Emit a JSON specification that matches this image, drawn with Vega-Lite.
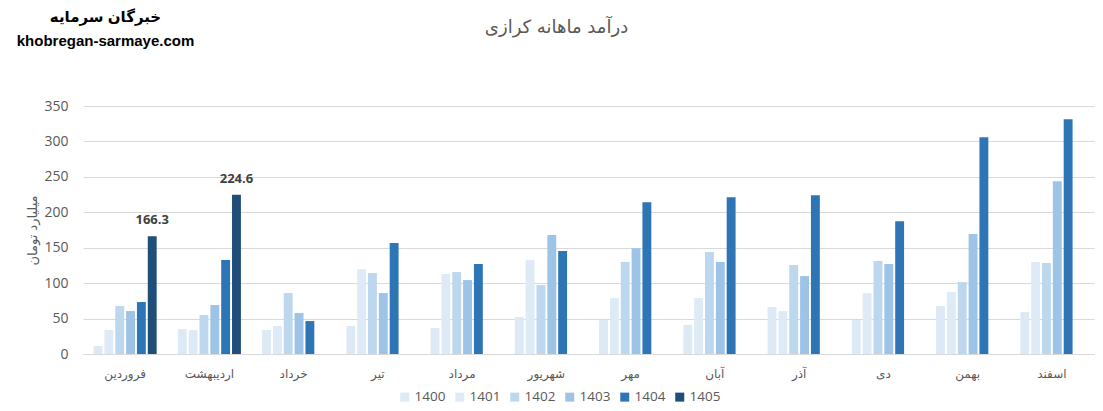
{
  "$schema": "https://vega.github.io/schema/vega-lite/v6.json",
  "autosize": {"type": "none"},
  "width": 1011,
  "height": 248,
  "padding": {"left": 83, "top": 106, "right": 9, "bottom": 57},
  "background": "white",
  "title": {
    "text": "درآمد ماهانه کرازی",
    "fontSize": 18,
    "fontWeight": "normal",
    "color": "#595959",
    "font": "DejaVu Sans",
    "anchor": "middle",
    "dx": -32,
    "offset": 0,
    "dy": 46,
    "baseline": "bottom"
  },
  "config": {"view": {"stroke": null}},
  "data": {
    "values": [
      {"month": "فروردین", "year": "1400", "value": 11.3},
      {"month": "فروردین", "year": "1401", "value": 33.8},
      {"month": "فروردین", "year": "1402", "value": 67.7},
      {"month": "فروردین", "year": "1403", "value": 60.6},
      {"month": "فروردین", "year": "1404", "value": 73.3},
      {"month": "فروردین", "year": "1405", "value": 166.3},
      {"month": "اردیبهشت", "year": "1400", "value": 35.2},
      {"month": "اردیبهشت", "year": "1401", "value": 33.8},
      {"month": "اردیبهشت", "year": "1402", "value": 55.0},
      {"month": "اردیبهشت", "year": "1403", "value": 69.1},
      {"month": "اردیبهشت", "year": "1404", "value": 132.5},
      {"month": "اردیبهشت", "year": "1405", "value": 224.6},
      {"month": "خرداد", "year": "1400", "value": 33.8},
      {"month": "خرداد", "year": "1401", "value": 39.5},
      {"month": "خرداد", "year": "1402", "value": 86.0},
      {"month": "خرداد", "year": "1403", "value": 57.8},
      {"month": "خرداد", "year": "1404", "value": 46.5},
      {"month": "تیر", "year": "1400", "value": 39.5},
      {"month": "تیر", "year": "1401", "value": 119.8},
      {"month": "تیر", "year": "1402", "value": 114.2},
      {"month": "تیر", "year": "1403", "value": 86.0},
      {"month": "تیر", "year": "1404", "value": 156.5},
      {"month": "مرداد", "year": "1400", "value": 36.7},
      {"month": "مرداد", "year": "1401", "value": 112.8},
      {"month": "مرداد", "year": "1402", "value": 115.6},
      {"month": "مرداد", "year": "1403", "value": 104.3},
      {"month": "مرداد", "year": "1404", "value": 126.9},
      {"month": "شهریور", "year": "1400", "value": 52.2},
      {"month": "شهریور", "year": "1401", "value": 132.5},
      {"month": "شهریور", "year": "1402", "value": 97.3},
      {"month": "شهریور", "year": "1403", "value": 167.8},
      {"month": "شهریور", "year": "1404", "value": 145.2},
      {"month": "مهر", "year": "1400", "value": 47.9},
      {"month": "مهر", "year": "1401", "value": 78.9},
      {"month": "مهر", "year": "1402", "value": 129.7},
      {"month": "مهر", "year": "1403", "value": 149.4},
      {"month": "مهر", "year": "1404", "value": 214.3},
      {"month": "آبان", "year": "1400", "value": 40.9},
      {"month": "آبان", "year": "1401", "value": 78.9},
      {"month": "آبان", "year": "1402", "value": 143.8},
      {"month": "آبان", "year": "1403", "value": 129.7},
      {"month": "آبان", "year": "1404", "value": 221.3},
      {"month": "آذر", "year": "1400", "value": 66.3},
      {"month": "آذر", "year": "1401", "value": 60.6},
      {"month": "آذر", "year": "1402", "value": 125.5},
      {"month": "آذر", "year": "1403", "value": 110.0},
      {"month": "آذر", "year": "1404", "value": 224.2},
      {"month": "دی", "year": "1400", "value": 47.9},
      {"month": "دی", "year": "1401", "value": 86.0},
      {"month": "دی", "year": "1402", "value": 131.1},
      {"month": "دی", "year": "1403", "value": 126.9},
      {"month": "دی", "year": "1404", "value": 187.5},
      {"month": "بهمن", "year": "1400", "value": 67.7},
      {"month": "بهمن", "year": "1401", "value": 87.4},
      {"month": "بهمن", "year": "1402", "value": 101.5},
      {"month": "بهمن", "year": "1403", "value": 169.2},
      {"month": "بهمن", "year": "1404", "value": 305.9},
      {"month": "اسفند", "year": "1400", "value": 59.2},
      {"month": "اسفند", "year": "1401", "value": 129.7},
      {"month": "اسفند", "year": "1402", "value": 128.3},
      {"month": "اسفند", "year": "1403", "value": 243.9},
      {"month": "اسفند", "year": "1404", "value": 331.3}
    ]
  },
  "layer": [
    {
      "mark": {"type": "bar", "opacity": 1},
      "encoding": {
        "x": {
          "field": "month",
          "type": "nominal",
          "sort": ["فروردین", "اردیبهشت", "خرداد", "تیر", "مرداد", "شهریور", "مهر", "آبان", "آذر", "دی", "بهمن", "اسفند"],
          "scale": {"paddingInner": 0.228, "paddingOuter": 0.114},
          "axis": {
            "orient": "bottom",
            "title": null,
            "labelAngle": 0,
            "labelFont": "DejaVu Sans",
            "labelFontSize": 12,
            "labelColor": "#595959",
            "labelPadding": 14,
            "ticks": false,
            "grid": false,
            "domainColor": "#D9D9D9",
            "domainWidth": 1
          }
        },
        "xOffset": {
          "field": "year",
          "type": "nominal",
          "scale": {"paddingInner": 0.18, "paddingOuter": 0.09}
        },
        "y": {
          "field": "value",
          "type": "quantitative",
          "scale": {"domain": [0, 350], "nice": false},
          "axis": {
            "values": [0, 50, 100, 150, 200, 250, 300, 350],
            "labelOverlap": false,
            "title": "میلیارد تومان",
            "titleFont": "DejaVu Sans",
            "titleFontSize": 13,
            "titleFontWeight": "normal",
            "titleColor": "#595959",
            "titleX": -51,
            "titleY": 124,
            "titleAngle": -90,
            "titleAlign": "center",
            "titleBaseline": "middle",
            "labelFont": "Open Sans",
            "labelFontSize": 14,
            "labelColor": "#595959",
            "labelPadding": 15,
            "ticks": false,
            "domain": false,
            "gridColor": "#D9D9D9",
            "gridWidth": 1
          }
        },
        "color": {
          "field": "year",
          "type": "nominal",
          "scale": {
            "domain": ["1400", "1401", "1402", "1403", "1404", "1405"],
            "range": ["#DDEAF6", "#DEEBF7", "#BDD7EE", "#9DC3E6", "#2E75B6", "#1F4E79"]
          },
          "legend": {
            "orient": "none",
            "legendX": 315,
            "legendY": 284,
            "direction": "horizontal",
            "title": null,
            "symbolType": "square",
            "symbolSize": 81,
            "symbolStrokeWidth": 0,
            "labelFont": "Open Sans",
            "labelFontSize": 13.5,
            "labelColor": "#595959",
            "labelOffset": 3,
            "columnPadding": 7
          }
        }
      }
    },
    {
      "transform": [{"filter": "datum.year == '1405'"}],
      "mark": {"type": "text", "baseline": "bottom", "dy": -9, "fontWeight": "bold", "fontSize": 13, "font": "Open Sans", "color": "#404040"},
      "encoding": {
        "x": {
          "field": "month",
          "type": "nominal",
          "sort": ["فروردین", "اردیبهشت", "خرداد", "تیر", "مرداد", "شهریور", "مهر", "آبان", "آذر", "دی", "بهمن", "اسفند"],
          "axis": {
            "orient": "top",
            "labels": false,
            "ticks": false,
            "domain": false,
            "grid": false,
            "title": ["خبرگان سرمایه", "khobregan-sarmaye.com"],
            "titleFont": "Liberation Sans, DejaVu Sans, sans-serif",
            "titleFontSize": 15,
            "titleFontWeight": "bold",
            "titleColor": "#000000",
            "titleX": 22,
            "titleY": -97,
            "titleAlign": "center",
            "titleBaseline": "top",
            "titleLineHeight": 24
          }
        },
        "xOffset": {"field": "year", "type": "nominal"},
        "y": {
          "field": "value",
          "type": "quantitative",
          "scale": {"domain": [0, 350], "nice": false},
          "axis": {
            "values": [0, 50, 100, 150, 200, 250, 300, 350],
            "labelOverlap": false,
            "title": "میلیارد تومان",
            "titleFont": "DejaVu Sans",
            "titleFontSize": 13,
            "titleFontWeight": "normal",
            "titleColor": "#595959",
            "titleX": -51,
            "titleY": 124,
            "titleAngle": -90,
            "titleAlign": "center",
            "titleBaseline": "middle",
            "labelFont": "Open Sans",
            "labelFontSize": 14,
            "labelColor": "#595959",
            "labelPadding": 15,
            "ticks": false,
            "domain": false,
            "gridColor": "#D9D9D9",
            "gridWidth": 1
          }
        },
        "text": {"field": "value", "type": "quantitative", "format": ".1f"}
      }
    }
  ],
  "resolve": {"axis": {"x": "independent"}}
}
